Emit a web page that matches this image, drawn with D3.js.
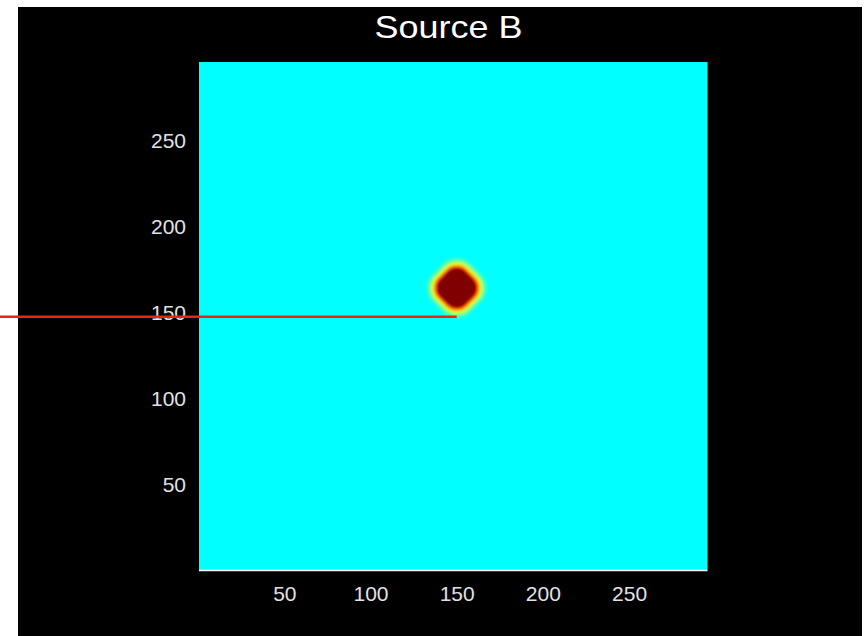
<!DOCTYPE html>
<html>
<head>
<meta charset="utf-8">
<script src="https://cdn.jsdelivr.net/npm/d3@7"></script>
<style>
  body { margin: 0; background: #ffffff; }
  svg text { font-family: "Liberation Sans", Arial, sans-serif; }
</style>
</head>
<body>
<div id="chart"></div>
<script>
// axis ticks
var xTicks = [50, 100, 150, 200, 250];
var yTicks = [50, 100, 150, 200, 250];

// source spot (data units)
var spotCenter = [150, 164.3];
var spotLevels = [0.45, 0.53, 0.60, 0.68, 0.78, 0.86, 1.0];
var spotHalf   = [15.6, 14.0, 13.0, 12.2, 11.5, 11.0, 10.3];
var background = 0.375;

// profile line
var lineX = [-115, 150];
var lineY = [147.6, 147.6];

var width = 867, height = 636;
var margin = {top: 62, left: 199, right: 159.5, bottom: 66};

// jet colormap
var jet = d3.scaleLinear()
  .domain([0, 0.125, 0.375, 0.625, 0.875, 1])
  .range(["#00008f", "#0000ff", "#00ffff", "#ffff00", "#ff0000", "#800000"])
  .clamp(true);

var svg = d3.select("#chart").append("svg")
  .attr("width", width)
  .attr("height", height);

var defs = svg.append("defs");
defs.append("filter")
  .attr("id", "soft")
  .attr("x", "-50%").attr("y", "-50%")
  .attr("width", "200%").attr("height", "200%")
  .append("feGaussianBlur")
  .attr("stdDeviation", 1.4);

svg.append("rect")
  .attr("x", 18).attr("y", 7)
  .attr("width", 844).attr("height", 629)
  .style("fill", "#000000");

var x = d3.scaleLinear()
  .domain([0.5, 295.5])
  .range([margin.left, width - margin.right]);

var y = d3.scaleLinear()
  .domain([0.5, 295.5])
  .range([height - margin.bottom, margin.top]);

// image background
svg.append("rect")
  .attr("x", x(0.5))
  .attr("y", y(295.5))
  .attr("width", x(295.5) - x(0.5))
  .attr("height", y(0.5) - y(295.5))
  .style("fill", jet(background));

// spot, drawn as nested rounded diamonds
var cx = x(spotCenter[0]), cy = y(spotCenter[1]);
var spot = svg.append("g")
  .attr("filter", "url(#soft)");

spot.selectAll("rect.band")
  .data(d3.range(spotLevels.length))
  .enter()
  .append("rect")
  .attr("class", "band")
  .attr("x", i => cx - (x(spotHalf[i]) - x(0)))
  .attr("y", i => cy - (x(spotHalf[i]) - x(0)))
  .attr("width", i => 2 * (x(spotHalf[i]) - x(0)))
  .attr("height", i => 2 * (x(spotHalf[i]) - x(0)))
  .attr("rx", i => 0.72 * (x(spotHalf[i]) - x(0)))
  .attr("transform", `rotate(45, ${cx}, ${cy})`)
  .style("fill", i => jet(spotLevels[i]));

// bottom axis line
svg.append("line")
  .attr("x1", x(0.5)).attr("x2", x(295.5))
  .attr("y1", y(0.5) + 0.5).attr("y2", y(0.5) + 0.5)
  .style("stroke", "#ffffff")
  .style("stroke-width", 1.6);

var xAxis = d3.axisBottom(x)
  .tickValues(xTicks)
  .tickSize(0)
  .tickPadding(16);

var gx = svg.append("g")
  .attr("transform", `translate(0, ${y(0.5)})`)
  .call(xAxis);

var yAxis = d3.axisLeft(y)
  .tickValues(yTicks)
  .tickSize(0)
  .tickPadding(13);

var gy = svg.append("g")
  .attr("transform", `translate(${x(0.5)}, 0)`)
  .call(yAxis);

[gx, gy].forEach(g => {
  g.select(".domain").remove();
  g.selectAll("text")
    .style("fill", "#e2e2e2")
    .style("font-size", "21px")
    .style("font-family", "'Liberation Sans', Arial, sans-serif");
});

// title
svg.append("text")
  .attr("x", 448.5)
  .attr("y", 38)
  .attr("text-anchor", "middle")
  .attr("textLength", 148)
  .attr("lengthAdjust", "spacingAndGlyphs")
  .style("fill", "#ffffff")
  .style("font-size", "32px")
  .text("Source B");

// profile line
var line = d3.line()
  .x(d => x(d[0]))
  .y(d => y(d[1]));

svg.append("path")
  .datum(lineX.map((v, i) => [v, lineY[i]]))
  .attr("d", line)
  .style("fill", "none")
  .style("stroke", "#e8280a")
  .style("stroke-width", 2.5);
</script>
</body>
</html>
